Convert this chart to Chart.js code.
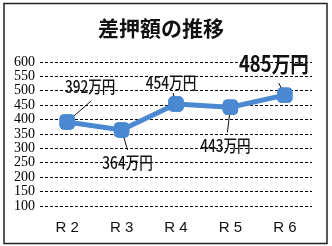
<!DOCTYPE html>
<html>
<head>
<meta charset="utf-8">
<script src="https://cdn.jsdelivr.net/npm/chart.js@4"></script>
<style>
  html, body { margin: 0; padding: 0; background: #fff; }
  #wrap { width: 332px; height: 246px; }
</style>
</head>
<body>
<div id="wrap"><canvas id="myChart" width="332" height="246"></canvas></div>
<script>
// 差押額の推移 (単位: 万円)
const years = ['R 2', 'R 3', 'R 4', 'R 5', 'R 6'];
const amounts = [392, 364, 454, 443, 485];
const yTicks = [100, 150, 200, 250, 300, 350, 400, 450, 500, 550, 600];

const titleText = '差押額の推移';
const lineColor = '#4a88d2';

// ラベルの位置 (点からのずれ) と引き出し線
const labelStyle = [
    { dx: 23, dy: -35, lx: 24, ly: -21, size: 17, weight: 500, sx: 0.8 },
    { dx: 6, dy: 33, lx: 6, ly: 20, size: 17, weight: 500, sx: 0.8 },
    { dx: -5, dy: -22, lx: -3, ly: -11, size: 17, weight: 500, sx: 0.8 },
    { dx: -5, dy: 38, lx: -3, ly: 25, size: 17, weight: 500, sx: 0.8 },
    { dx: -11, dy: -31, lx: -6, ly: -12, size: 22, weight: 'bold', sx: 0.84 },
];

const framePlugin = {
    id: 'frame',
    beforeDraw(chart) {
        const ctx = chart.ctx;
        ctx.save();
        ctx.fillStyle = '#fff';
        ctx.fillRect(0, 0, chart.width, chart.height);
        ctx.strokeStyle = '#222';
        ctx.lineWidth = 1.5;
        ctx.strokeRect(4, 3.5, 323, 240);
        ctx.fillStyle = '#111';
        ctx.font = 'bold 21px "Noto Sans CJK JP"';
        ctx.textAlign = 'center';
        ctx.textBaseline = 'middle';
        ctx.fillText(titleText, 161, 28);
        ctx.restore();
    }
};

const labelPlugin = {
    id: 'valueLabels',
    afterDatasetsDraw(chart) {
        const ctx = chart.ctx;
        const meta = chart.getDatasetMeta(0);
        ctx.save();
        meta.data.forEach((pt, i) => {
            const st = labelStyle[i];
            // 引き出し線
            ctx.strokeStyle = '#111';
            ctx.lineWidth = 1;
            ctx.beginPath();
            ctx.moveTo(pt.x, pt.y);
            ctx.lineTo(pt.x + st.lx, pt.y + st.ly);
            ctx.stroke();
        });
        // 点を線の上に描き直す
        meta.data.forEach((pt) => pt.draw(ctx, chart.chartArea));
        meta.data.forEach((pt, i) => {
            const st = labelStyle[i];
            const txt = amounts[i] + '万円';
            ctx.save();
            ctx.translate(pt.x + st.dx, pt.y + st.dy);
            ctx.scale(st.sx, 1);
            ctx.font = st.weight + ' ' + st.size + 'px "Noto Sans CJK JP"';
            ctx.fillStyle = '#111';
            ctx.textAlign = 'center';
            ctx.textBaseline = 'middle';
            ctx.fillText(txt, 0, 0);
            ctx.restore();
        });
        ctx.restore();
    }
};

const config = {
    type: 'line',
    data: {
        labels: years,
        datasets: [{
            data: amounts,
            borderColor: lineColor,
            backgroundColor: lineColor,
            borderWidth: 5,
            tension: 0,
            pointStyle: 'rectRounded',
            pointRadius: 9,
            pointBorderWidth: 0,
        }]
    },
    options: {
        responsive: false,
        animation: false,
        layout: { padding: { top: 62, right: 20, left: 0, bottom: 0 } },
        plugins: { legend: { display: false }, tooltip: { enabled: false } },
        scales: {
            x: {
                offset: true,
                grid: { display: false },
                border: { display: false },
                ticks: {
                    color: '#111',
                    padding: 5,
                    font: { family: '"Liberation Sans"', size: 15 }
                },
                afterFit(scale) { scale.height = 40; }
            },
            y: {
                min: 100,
                max: 600,
                afterBuildTicks(scale) {
                    scale.ticks = yTicks.map((v) => ({ value: v }));
                },
                grid: { color: '#000', lineWidth: 1, drawTicks: false, borderDash: [3, 2] },
                border: { display: false, dash: [3, 2] },
                ticks: {
                    color: '#000',
                    padding: 5,
                    autoSkip: false,
                    font: { family: '"Liberation Sans Narrow"', size: 14 }
                },
                afterFit(scale) { scale.width = 40; }
            }
        }
    },
    plugins: [framePlugin, labelPlugin]
};

new Chart(document.getElementById('myChart'), config);
</script>
</body>
</html>
